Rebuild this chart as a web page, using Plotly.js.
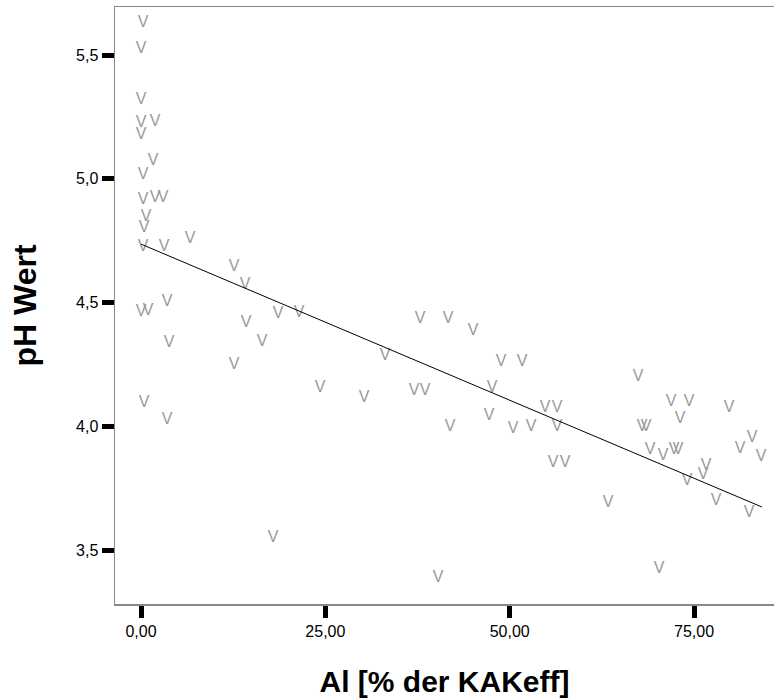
<!DOCTYPE html>
<html>
<head>
<meta charset="utf-8">
<script src="https://cdn.plot.ly/plotly-3.0.1.min.js"></script>
<style>html,body{margin:0;padding:0;background:#fff;}#chart{width:774px;height:699px;}</style>
</head>
<body>
<div id="chart"></div>
<script>
// Al [% der KAKeff]
const alValues = [0.27,0.0,0.0,0.0,1.90,0.0,1.63,0.27,0.27,1.90,2.98,0.68,0.41,0.27,3.12,6.65,
  0.0,0.95,3.53,3.80,0.41,3.53,12.61,14.11,14.24,16.41,12.61,18.58,21.43,17.90,24.28,30.25,
  33.09,37.03,38.52,37.84,41.64,45.03,48.83,51.67,47.61,47.20,41.91,50.45,52.90,40.28,54.80,
  56.42,56.42,55.88,57.51,63.34,67.41,67.96,68.50,71.88,74.33,73.11,69.04,70.81,72.30,72.85,
  76.63,76.22,74.05,77.99,79.75,81.24,82.87,84.09,82.46,70.26];
// pH Wert
const phValues = [5.629,5.524,5.318,5.225,5.229,5.177,5.072,5.015,4.914,4.922,4.922,4.845,4.801,4.724,4.724,4.757,
  4.462,4.466,4.502,4.336,4.094,4.025,4.643,4.571,4.417,4.340,4.248,4.453,4.458,3.549,4.155,4.114,
  4.284,4.143,4.143,4.433,4.433,4.385,4.260,4.260,4.155,4.041,3.997,3.989,3.997,3.387,4.074,
  4.074,3.997,3.851,3.851,3.690,4.199,3.997,3.997,4.098,4.098,4.029,3.904,3.880,3.904,3.904,
  3.839,3.803,3.779,3.698,4.074,3.908,3.953,3.876,3.649,3.423];
// fit line end points
const fitX = [0.0, 84.2];
const fitY = [4.736, 3.674];
const xTicks = [0, 25, 50, 75];
const yTicks = [3.5, 4.0, 4.5, 5.0, 5.5];

const FONT = 'Liberation Sans, Arial, Helvetica, sans-serif';

const traces = [
  {
    x: alValues, y: phValues, type: 'scatter', mode: 'text',
    text: alValues.map(() => 'V'), textposition: 'middle center',
    textfont: {family: FONT, size: 16, color: '#9a9a9a'},
    cliponaxis: false, hoverinfo: 'skip', showlegend: false
  },
  {
    x: fitX, y: fitY, type: 'scatter', mode: 'lines',
    line: {color: '#000000', width: 1}, hoverinfo: 'skip', showlegend: false
  }
];

const layout = {
  width: 774, height: 699,
  margin: {l: 115, r: 0, t: 7, b: 95, pad: 0},
  paper_bgcolor: '#ffffff', plot_bgcolor: '#ffffff',
  separators: ',.',
  showlegend: false,
  font: {family: FONT, color: '#000000'},
  xaxis: {
    range: [-3.53, 85.85], tickvals: xTicks, tickformat: '.2f',
    ticks: 'outside', ticklen: 12, tickwidth: 5, tickcolor: '#000000',
    showline: true, linecolor: '#888888', linewidth: 1.5, mirror: true,
    showgrid: false, zeroline: false,
    tickfont: {family: FONT, size: 16, color: '#000000'},
    title: {text: 'Al [% der KAKeff]', font: {family: FONT, size: 30, weight: 'bold', color: '#000000'}, standoff: 32}
  },
  yaxis: {
    range: [3.282, 5.694], tickvals: yTicks, tickformat: '.1f',
    ticks: 'outside', ticklen: 12, tickwidth: 5, tickcolor: '#000000',
    showline: true, linecolor: '#888888', linewidth: 1.5, mirror: false,
    showgrid: false, zeroline: false,
    tickfont: {family: FONT, size: 16, color: '#000000'},
    title: {text: 'pH Wert', font: {family: FONT, size: 32, weight: 'bold', color: '#000000'}, standoff: 30}
  }
};

Plotly.newPlot('chart', traces, layout, {displayModeBar: false, staticPlot: true});
</script>
</body>
</html>
